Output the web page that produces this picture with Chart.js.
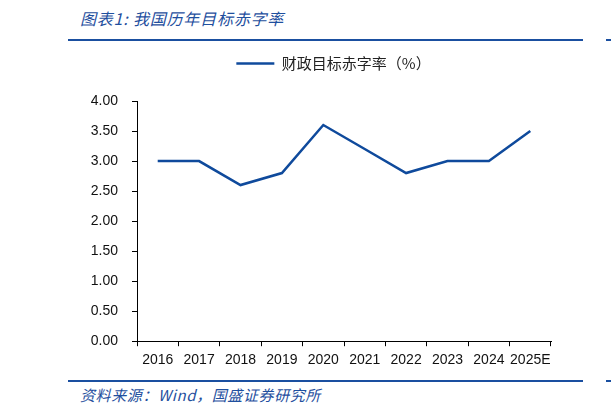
<!DOCTYPE html>
<html>
<head>
<meta charset="utf-8">
<script src="https://cdn.jsdelivr.net/npm/chart.js@4"></script>
<style>
  body { margin: 0; width: 611px; height: 412px; background: #fff; position: relative; overflow: hidden; }
  .title { position: absolute; left: 80px; top: 6px; font: italic 16px "Noto Sans CJK SC"; color: #1f4f9e; letter-spacing: 0.8px; }
  .rule { position: absolute; height: 2px; background: #1a4fa0; }
  .source { position: absolute; left: 80px; top: 384px; font: italic 15px "Noto Sans CJK SC"; color: #1f4f9e; letter-spacing: 0.6px; }
  #wrap { position: absolute; left: 68px; top: 48px; width: 515px; height: 327px; }
</style>
</head>
<body>
<div class="title">图表1:&nbsp;我国历年目标赤字率</div>
<div class="rule" style="left:68px; top:39px; width:515px;"></div>
<div class="rule" style="left:606px; top:39px; width:5px;"></div>
<div id="wrap"><canvas id="chart"></canvas></div>
<div class="rule" style="left:68px; top:380px; width:515px;"></div>
<div class="rule" style="left:606px; top:380px; width:5px;"></div>
<div class="source">资料来源：Wind，国盛证券研究所</div>
<script>
document.addEventListener('DOMContentLoaded', function() {
    // Data
    const years = ['2016', '2017', '2018', '2019', '2020', '2021', '2022', '2023', '2024', '2025E'];
    const deficitRate = [3.0, 3.0, 2.6, 2.8, 3.6, 3.2, 2.8, 3.0, 3.0, 3.5];
    const seriesName = '财政目标赤字率（%）';
    const yTicks = [0, 0.5, 1, 1.5, 2, 2.5, 3, 3.5, 4];

    const lineColor = '#0f4a9c';
    const tickFont = { family: '"Liberation Sans", Arial', size: 14 };

    const ctx = document.getElementById('chart').getContext('2d');
    new Chart(ctx, {
        type: 'line',
        data: {
            labels: years,
            datasets: [{
                label: seriesName,
                data: deficitRate,
                borderColor: lineColor,
                backgroundColor: lineColor,
                borderWidth: 2.5,
                pointRadius: 0,
                tension: 0
            }]
        },
        options: {
            responsive: true,
            maintainAspectRatio: false,
            animation: false,
            layout: { padding: { right: 32, top: 0, bottom: 0 } },
            plugins: {
                legend: {
                    position: 'top',
                    labels: {
                        usePointStyle: true,
                        pointStyle: 'line',
                        pointStyleWidth: 38,
                        boxHeight: 14,
                        padding: 8,
                        color: '#222',
                        font: { family: '"Noto Sans CJK SC"', size: 15 }
                    }
                },
                tooltip: { enabled: false }
            },
            scales: {
                x: {
                    offset: true,
                    grid: { offset: true, drawOnChartArea: false, drawTicks: true, tickLength: 5, color: '#000' },
                    border: { display: true, color: '#000' },
                    ticks: { color: '#111', font: tickFont, padding: 6, maxRotation: 0, autoSkip: false }
                },
                y: {
                    min: 0,
                    max: 4,
                    afterBuildTicks: function(axis) {
                        axis.ticks = yTicks.map(v => ({ value: v }));
                    },
                    afterFit: function(axis) { axis.width = 69; },
                    grid: { drawOnChartArea: false, drawTicks: true, tickLength: 5, color: '#000' },
                    border: { display: true, color: '#000' },
                    ticks: {
                        color: '#111',
                        font: tickFont,
                        padding: 14,
                        callback: v => Number(v).toFixed(2)
                    }
                }
            }
        },
        plugins: [{
            id: 'legendGap',
            beforeInit: function(chart) {
                const fit = chart.legend.fit;
                chart.legend.fit = function() {
                    fit.bind(chart.legend)();
                    this.height += 20;
                };
            },
            // nudge legend to the right, like the original
            afterLayout: function(chart) {
                chart.legend.left += 24;
                chart.legend.right += 24;
            }
        }]
    });
});
</script>
</body>
</html>
